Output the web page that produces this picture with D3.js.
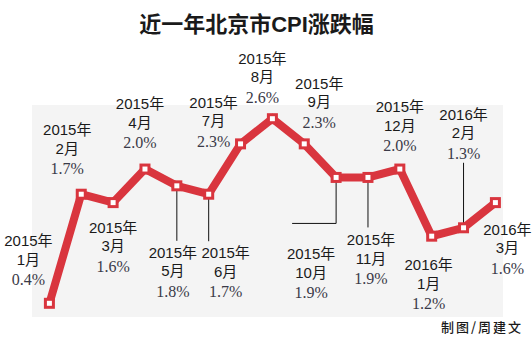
<!DOCTYPE html>
<html>
<head>
<meta charset="utf-8">
<script src="https://cdn.jsdelivr.net/npm/d3@7/dist/d3.min.js"></script>
<style>
  html, body { margin: 0; padding: 0; background: #fff; }
  svg { display: block; }
</style>
</head>
<body>
<svg id="chart" width="532" height="340"></svg>
<script>
// Monthly CPI change, Beijing (Jan 2015 – Mar 2016)
const years  = ["2015年","2015年","2015年","2015年","2015年","2015年","2015年","2015年","2015年","2015年","2015年","2015年","2016年","2016年","2016年"];
const months = ["1月","2月","3月","4月","5月","6月","7月","8月","9月","10月","11月","12月","1月","2月","3月"];
const cpi    = [0.4, 1.7, 1.6, 2.0, 1.8, 1.7, 2.3, 2.6, 2.3, 1.9, 1.9, 2.0, 1.2, 1.3, 1.6];

const title  = "近一年北京市CPI涨跌幅";
const credit = "制图/周建文";

// Label placement around each marker: [dx, dy of first text line]
const labelOffset = [
  [-21, -57], [-14, -59], [0, 30], [-5, -60], [-4, 72], [17, 64], [-27, -36],
  [-10, -55], [15, -55], [-25, 82], [3, 68], [0, -57], [-3, 34], [0, -108], [12, 32]
];
// Leader lines: index -> list of [dx, dy] points after the marker
const leaders = {
  4: [[0, 55]],
  5: [[0, 47]],
  9: [[0, 46], [-44, 46]],
  10: [[0, 50]],
  13: [[0, -65]]
};

const svg = d3.select("#chart");
const RED = "#d9353e";

const x = d3.scaleLinear().domain([0, cpi.length - 1]).range([49.4, 495.4]);
const y = d3.scaleLinear().domain([0.4, 2.6]).range([303.3, 118.7]);

// Title
svg.append("text")
  .attr("x", 256.5).attr("y", 32)
  .attr("text-anchor", "middle")
  .attr("font-family", "'Liberation Sans', 'Noto Sans CJK SC', sans-serif")
  .attr("font-weight", "bold")
  .attr("font-size", 22)
  .attr("fill", "#1a1a1a")
  .text(title);

// Panel background
svg.append("rect")
  .attr("x", 32).attr("y", 105)
  .attr("width", 471).attr("height", 212)
  .attr("fill", "#f4f4f4");

// Leader lines
Object.entries(leaders).forEach(([k, pts]) => {
  const i = +k;
  const x0 = x(i), y0 = y(cpi[i]);
  const path = [[x0, y0]].concat(pts.map(p => [x0 + p[0], y0 + p[1]]));
  svg.append("path")
    .attr("d", d3.line()(path))
    .attr("fill", "none")
    .attr("stroke", "#111")
    .attr("stroke-width", 1);
});

// CPI line
svg.append("path")
  .datum(cpi)
  .attr("d", d3.line().x((d, i) => x(i)).y(d => y(d)))
  .attr("fill", "none")
  .attr("stroke", RED)
  .attr("stroke-width", 8)
  .attr("stroke-linejoin", "miter");

// Square markers
svg.selectAll("rect.marker")
  .data(cpi)
  .join("rect")
  .attr("class", "marker")
  .attr("x", (d, i) => x(i) - 4)
  .attr("y", d => y(d) - 4)
  .attr("width", 8).attr("height", 8)
  .attr("fill", "#fff")
  .attr("stroke", RED)
  .attr("stroke-width", 3);

// Labels: year / month / value
const labels = svg.selectAll("g.label")
  .data(cpi)
  .join("g")
  .attr("class", "label")
  .attr("transform", (d, i) => `translate(${x(i) + labelOffset[i][0]},${y(d) + labelOffset[i][1]})`);

labels.append("text")
  .attr("text-anchor", "middle")
  .attr("font-family", "'Liberation Sans', 'Noto Sans CJK SC', sans-serif")
  .attr("font-size", 15)
  .attr("fill", "#1a1a1a")
  .text((d, i) => years[i]);

labels.append("text")
  .attr("y", 18.5)
  .attr("text-anchor", "middle")
  .attr("font-family", "'Liberation Sans', 'Noto Sans CJK SC', sans-serif")
  .attr("font-size", 15)
  .attr("fill", "#1a1a1a")
  .text((d, i) => months[i]);

labels.append("text")
  .attr("y", 39)
  .attr("text-anchor", "middle")
  .attr("font-family", "'Liberation Serif', serif")
  .attr("font-size", 16)
  .attr("fill", "#3a3a48")
  .text(d => d3.format(".1f")(d) + "%");

// Credit
svg.append("text")
  .attr("x", 523).attr("y", 332)
  .attr("text-anchor", "end")
  .attr("font-family", "'Noto Sans CJK SC', sans-serif")
  .attr("font-size", 13)
  .attr("font-weight", 500)
  .attr("letter-spacing", 2)
  .attr("fill", "#1a1a1a")
  .text(credit);
</script>
</body>
</html>
